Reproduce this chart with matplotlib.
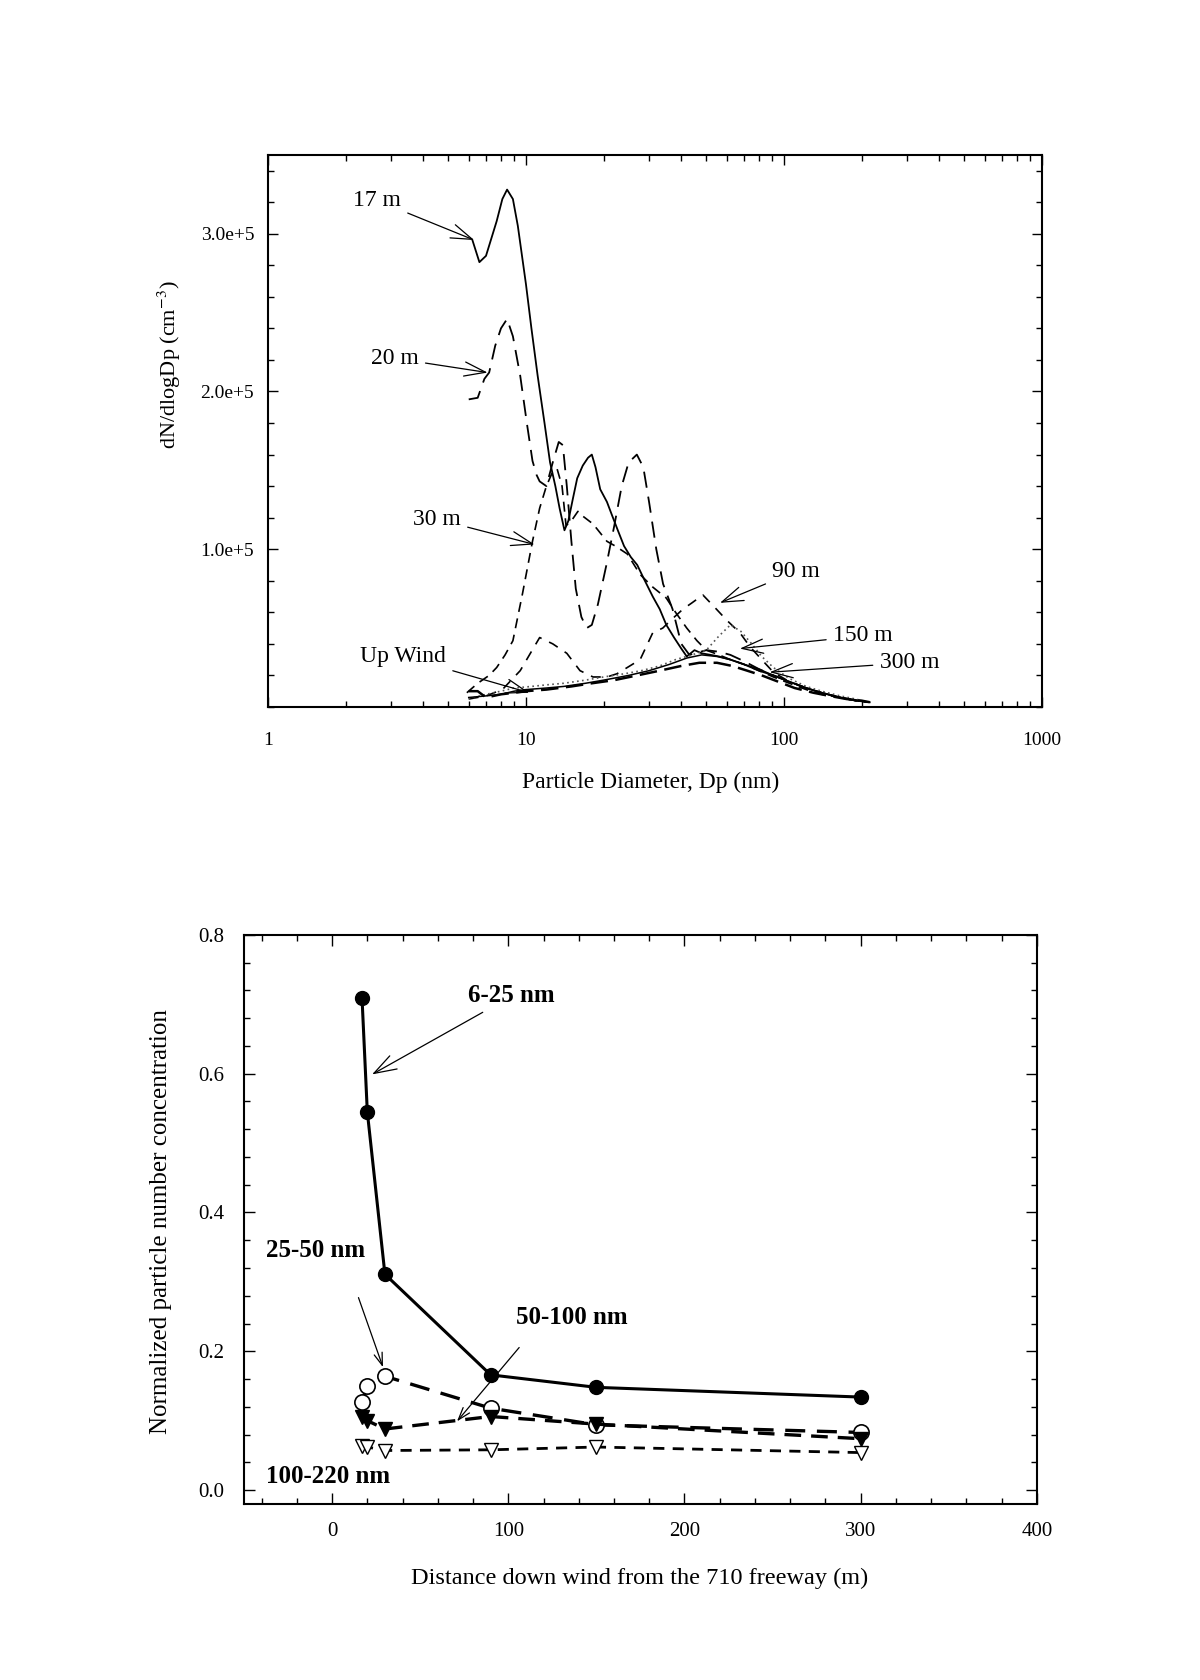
import numpy as np
import matplotlib
matplotlib.use('Agg')
import matplotlib.pyplot as plt
from matplotlib.ticker import FixedLocator, FixedFormatter, MultipleLocator, LogLocator, NullFormatter

plt.rcParams['font.family'] = ['Liberation Serif', 'DejaVu Serif']
plt.rcParams['mathtext.fontset'] = 'stix'

# ---------------- Top panel data (Dp in nm, dN/dlogDp in 1e5 cm^-3) ----------------
x_17 = [6.2, 6.6, 7.0, 7.7, 8.1, 8.45, 8.9, 9.3, 10.0, 10.5, 11.1, 11.8, 12.4, 13.0, 13.5, 14.1,
        14.6, 15.2, 15.8, 16.6, 17.4, 18.0, 18.6, 19.4, 20.6, 21.5, 22.7, 24.0, 25.5, 27.0, 28.5,
        31.0, 33.0, 35.0, 37.5, 40.0, 42.0, 45.0, 48.0, 52.0, 56.0, 62.0, 70.0, 80.0, 91.0, 105,
        122, 140, 165, 190, 215]
y_17 = [2.96, 2.82, 2.86, 3.08, 3.22, 3.28, 3.22, 3.05, 2.68, 2.40, 2.10, 1.80, 1.55, 1.40, 1.26, 1.12,
        1.18, 1.32, 1.45, 1.53, 1.58, 1.60, 1.52, 1.38, 1.30, 1.22, 1.12, 1.02, 0.95, 0.90, 0.82,
        0.70, 0.62, 0.52, 0.44, 0.37, 0.32, 0.36, 0.34, 0.33, 0.32, 0.30, 0.27, 0.23, 0.20, 0.16,
        0.12, 0.09, 0.06, 0.04, 0.03]

x_20 = [6.0, 6.5, 6.9, 7.2, 7.6, 8.0, 8.45, 8.9, 9.5, 10.1, 10.6, 11.0, 11.3, 12.0, 12.7, 13.4, 13.9,
        14.4, 15.0, 15.6, 16.4, 17.2, 18.0, 19.0, 20.5, 22.0, 23.5, 25.0, 26.9, 28.5, 30.0, 32.0,
        34.0, 37.0, 40.0, 43.0, 50.0, 56.0, 62.0, 70.0, 80.0, 91.0, 105, 122, 140, 165, 190, 210]
y_20 = [1.95, 1.96, 2.08, 2.12, 2.29, 2.40, 2.46, 2.35, 2.10, 1.79, 1.56, 1.47, 1.43, 1.40, 1.55, 1.68, 1.66,
        1.40, 1.05, 0.75, 0.57, 0.50, 0.52, 0.65, 0.90, 1.15, 1.40, 1.55, 1.60, 1.52, 1.30, 1.00,
        0.78, 0.62, 0.40, 0.33, 0.36, 0.35, 0.33, 0.29, 0.24, 0.20, 0.16, 0.12, 0.09, 0.06, 0.04, 0.03]

x_30 = [5.9, 6.5, 7.2, 7.7, 8.3, 8.9, 9.7, 10.6, 11.3, 12.0, 12.6, 13.2, 13.8, 14.3, 15.0, 15.9,
        16.6, 18.2, 20.6, 22.2, 24.7, 27.7, 31.0, 35.0, 38.0, 42.0, 46.0, 50.0, 56.0, 62.0, 70.0,
        80.0, 91.0, 105, 122, 140, 165, 190, 210]
y_30 = [0.09, 0.15, 0.20, 0.25, 0.33, 0.42, 0.72, 1.05, 1.26, 1.40, 1.48, 1.51, 1.40, 1.15, 1.18, 1.24,
        1.21, 1.16, 1.05, 1.02, 0.97, 0.84, 0.76, 0.69, 0.60, 0.50, 0.42, 0.36, 0.33, 0.30, 0.27,
        0.23, 0.19, 0.15, 0.11, 0.08, 0.06, 0.04, 0.03]

x_90 = [6.0, 7.0, 8.1, 9.5, 10.4, 11.3, 12.7, 14.4, 16.2, 18.2, 20.6, 22.5, 24.7, 27.7, 31.0, 33.9,
        37.0, 40.6, 44.0, 48.5, 54.0, 60.0, 67.5, 74.0, 82, 91, 105, 122, 140, 165, 190, 210]
y_90 = [0.05, 0.07, 0.11, 0.23, 0.34, 0.44, 0.40, 0.34, 0.23, 0.19, 0.19, 0.21, 0.25, 0.30, 0.47, 0.50,
        0.56, 0.62, 0.66, 0.71, 0.63, 0.55, 0.47, 0.38, 0.30, 0.22, 0.16, 0.12, 0.09, 0.06, 0.04, 0.03]

x_150 = [6.0, 7.0, 8.0, 9.0, 10.5, 12, 14, 17, 20, 24, 28, 33, 38, 44, 50, 56, 62, 68, 75, 82, 91,
         105, 122, 140, 165, 190, 210]
y_150 = [0.05, 0.08, 0.10, 0.12, 0.13, 0.14, 0.15, 0.17, 0.19, 0.21, 0.23, 0.26, 0.30, 0.33, 0.36,
         0.45, 0.52, 0.48, 0.40, 0.32, 0.25, 0.18, 0.13, 0.10, 0.07, 0.05, 0.03]

x_300 = [6.0, 7.0, 8.0, 9.0, 10.0, 12, 14, 17, 20, 25, 30, 36, 42, 48, 55, 62, 70, 80, 91, 105, 122,
         140, 165, 190, 210]
y_300 = [0.06, 0.07, 0.08, 0.10, 0.11, 0.12, 0.13, 0.15, 0.17, 0.20, 0.23, 0.27, 0.31, 0.33, 0.32,
         0.30, 0.27, 0.24, 0.20, 0.16, 0.12, 0.09, 0.06, 0.045, 0.03]

x_up = [6.0, 6.5, 7.0, 8.0, 9.0, 10.0, 12, 15, 18, 22, 27, 33, 40, 47, 55, 63, 72, 82, 95, 110, 130,
        150, 175, 200, 215]
y_up = [0.10, 0.10, 0.06, 0.08, 0.09, 0.10, 0.11, 0.13, 0.15, 0.17, 0.20, 0.23, 0.26, 0.28, 0.28,
        0.26, 0.23, 0.20, 0.16, 0.12, 0.09, 0.07, 0.05, 0.04, 0.03]

top_xticks = [1, 10, 100, 1000]
top_xticklabels = ['1', '10', '100', '1000']
top_yticks = [1e5, 2e5, 3e5]
top_yticklabels = ['1.0e+5', '2.0e+5', '3.0e+5']

# ---------------- Bottom panel data ----------------
distance = [17, 20, 30, 90, 150, 300]
nm_6_25 = [0.709, 0.545, 0.311, 0.166, 0.148, 0.134]
nm_25_50 = [0.127, 0.150, 0.164, 0.118, 0.094, 0.083]
nm_50_100 = [0.105, 0.100, 0.088, 0.106, 0.095, 0.074]
nm_100_220 = [0.063, 0.062, 0.057, 0.058, 0.062, 0.054]
bot_xticks = [0, 100, 200, 300, 400]
bot_yticks = [0.0, 0.2, 0.4, 0.6, 0.8]

fig = plt.figure(figsize=(12, 16.8), dpi=100)
fig.patch.set_facecolor('white')

arrow_kw = dict(arrowstyle='->,head_length=0.9,head_width=0.3', lw=0.9, color='black',
                shrinkA=3, shrinkB=0)

# ================= Top panel =================
ax1 = fig.add_axes([0.2233, 0.5792, 0.645, 0.3286])
s = 1e5
ax1.plot(x_17, np.array(y_17) * s, color='black', lw=1.3, ls='-')
ax1.plot(x_20, np.array(y_20) * s, color='black', lw=1.3, ls=(0, (9, 5)))
ax1.plot(x_30, np.array(y_30) * s, color='black', lw=1.2, ls=(0, (6, 4)))
ax1.plot(x_90, np.array(y_90) * s, color='black', lw=1.2, ls=(0, (6, 5)))
ax1.plot(x_150, np.array(y_150) * s, color='#555555', lw=1.2, ls=(0, (1, 2)))
ax1.plot(x_300, np.array(y_300) * s, color='black', lw=1.1, ls='-')
ax1.plot(x_up, np.array(y_up) * s, color='black', lw=1.8, ls=(0, (7, 3)))

ax1.set_xscale('log')
ax1.set_xlim(1, 1000)
ax1.set_ylim(0, 3.5e5)
ax1.xaxis.set_major_locator(FixedLocator(top_xticks))
ax1.xaxis.set_major_formatter(FixedFormatter(top_xticklabels))
ax1.xaxis.set_minor_locator(LogLocator(base=10, subs=np.arange(2, 10)))
ax1.xaxis.set_minor_formatter(NullFormatter())
ax1.yaxis.set_major_locator(FixedLocator(top_yticks))
ax1.yaxis.set_major_formatter(FixedFormatter(top_yticklabels))
ax1.yaxis.set_minor_locator(MultipleLocator(2e4))

ax1.tick_params(which='both', direction='in', top=True, right=True, width=1.0, labelsize=14)
ax1.tick_params(which='major', length=7)
ax1.tick_params(which='minor', length=4)
ax1.tick_params(axis='x', which='major', pad=18)
ax1.tick_params(axis='y', which='major', pad=10)
for sp in ax1.spines.values():
    sp.set_linewidth(1.5)

ax1.set_xlabel('Particle Diameter, Dp (nm)', fontsize=17)
ax1.xaxis.set_label_coords(0.494, -0.118)
ax1.set_ylabel(r'dN/dlogDp (cm$^{-3}$)', fontsize=16)
ax1.yaxis.set_label_coords(-0.110, 0.62)

ax1.annotate('17 m', xy=(6.3, 2.96e5), xytext=(2.65, 3.21e5), fontsize=17,
             ha='center', va='center', arrowprops=arrow_kw)
ax1.annotate('20 m', xy=(7.1, 2.12e5), xytext=(3.1, 2.21e5), fontsize=17,
             ha='center', va='center', arrowprops=arrow_kw)
ax1.annotate('30 m', xy=(10.8, 1.03e5), xytext=(4.52, 1.19e5), fontsize=17,
             ha='center', va='center', arrowprops=arrow_kw)
ax1.annotate('90 m', xy=(56.5, 0.66e5), xytext=(90, 0.86e5), fontsize=17,
             ha='left', va='center', arrowprops=arrow_kw)
ax1.annotate('150 m', xy=(67.5, 0.37e5), xytext=(155, 0.45e5), fontsize=17,
             ha='left', va='center', arrowprops=arrow_kw)
ax1.annotate('300 m', xy=(88, 0.22e5), xytext=(235, 0.28e5), fontsize=17,
             ha='left', va='center', arrowprops=arrow_kw)
ax1.annotate('Up Wind', xy=(10.3, 0.09e5), xytext=(3.34, 0.32e5), fontsize=17,
             ha='center', va='center', arrowprops=arrow_kw)

# ================= Bottom panel =================
ax2 = fig.add_axes([0.2033, 0.1048, 0.6608, 0.3387])
ax2.plot(distance, nm_6_25, color='black', lw=2.2, ls='-', marker='o', ms=10,
         mfc='black', mec='black', zorder=5)
ax2.plot(distance, nm_25_50, color='black', lw=2.4, ls=(0, (6, 3.5)), marker='o', ms=11,
         mfc='white', mec='black', mew=1.2, zorder=4)
ax2.plot(distance, nm_50_100, color='black', lw=2.4, ls=(0, (5, 3)), marker='v', ms=10,
         mfc='black', mec='black', zorder=4)
ax2.plot(distance, nm_100_220, color='black', lw=2.0, ls=(0, (4, 3)), marker='v', ms=10,
         mfc='white', mec='black', mew=1.0, zorder=4)

ax2.set_xlim(-50, 400)
ax2.set_ylim(-0.02, 0.8)
ax2.xaxis.set_major_locator(FixedLocator(bot_xticks))
ax2.xaxis.set_minor_locator(MultipleLocator(20))
ax2.yaxis.set_major_locator(FixedLocator(bot_yticks))
ax2.yaxis.set_major_formatter(FixedFormatter(['0.0', '0.2', '0.4', '0.6', '0.8']))
ax2.yaxis.set_minor_locator(MultipleLocator(0.04))
ax2.tick_params(which='both', direction='in', top=True, right=True, width=1.0, labelsize=15)
ax2.tick_params(which='major', length=8)
ax2.tick_params(which='minor', length=4)
ax2.tick_params(axis='x', which='major', pad=13)
ax2.tick_params(axis='y', which='major', pad=14)
for sp in ax2.spines.values():
    sp.set_linewidth(1.5)

ax2.set_xlabel('Distance down wind from the 710 freeway (m)', fontsize=17.5)
ax2.xaxis.set_label_coords(0.4994, -0.113)
ax2.set_ylabel('Normalized particle number concentration', fontsize=18)
ax2.yaxis.set_label_coords(-0.091, 0.496)

ax2.annotate('6-25 nm', xy=(22.7, 0.599), xytext=(102, 0.712), fontsize=18, fontweight='bold',
             ha='center', va='center', arrowprops=arrow_kw)
ax2.text(-9.1, 0.345, '25-50 nm', fontsize=18, fontweight='bold', ha='center', va='center')
ax2.annotate('', xy=(28.9, 0.177), xytext=(14.2, 0.283), arrowprops=arrow_kw)
ax2.text(136, 0.249, '50-100 nm', fontsize=18, fontweight='bold', ha='center', va='center')
ax2.annotate('', xy=(70.9, 0.099), xytext=(107.7, 0.21), arrowprops=arrow_kw)
ax2.text(-2.3, 0.019, '100-220 nm', fontsize=18, fontweight='bold', ha='center', va='center')

fig.savefig('out.png', dpi=100, facecolor='white')
